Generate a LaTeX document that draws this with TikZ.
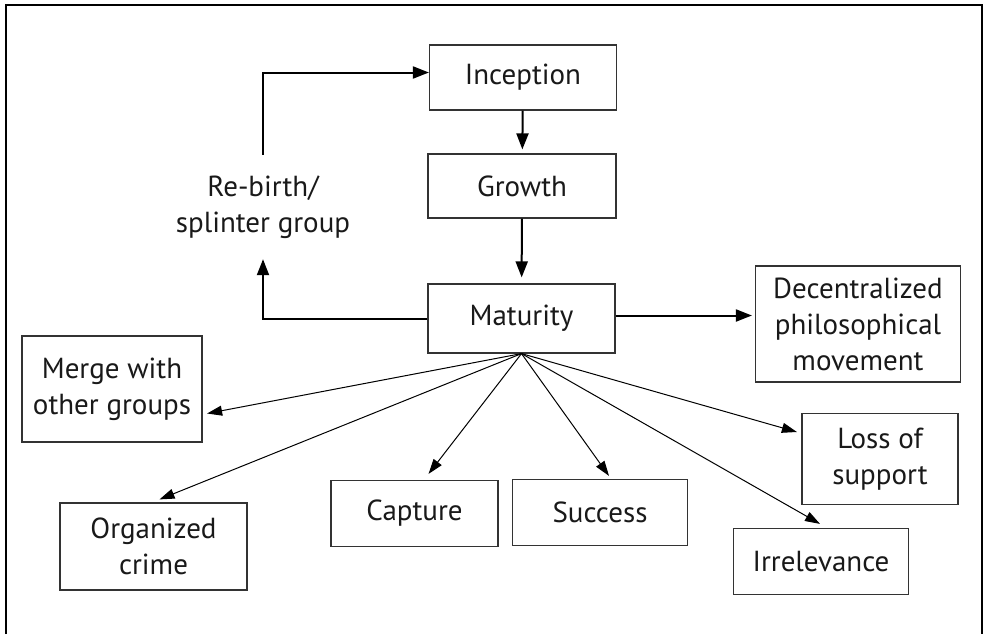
\documentclass[tikz,border=0pt]{standalone}
\usepackage{fontspec}
\setmainfont{PT Sans}
\usetikzlibrary{arrows.meta}

\begin{document}
\begin{tikzpicture}[x=1pt,y=-1pt,
    box/.style={draw=black!80,line width=1.2pt,align=center,inner sep=0pt,
      text=black!90,font=\fontsize{29}{36}\selectfont},
    link/.style={line width=2pt,-{Triangle[length=16pt,width=12pt]}},
    fan/.style={line width=1pt,-{Triangle[length=15pt,width=10pt]}}]
    \useasboundingbox (0,0) rectangle (984,634);
    % 外框
    \draw[line width=2.5pt] (6,634) -- (6,5) -- (982,5) -- (982,634);
    % 主线
    \node[box,minimum width=187pt,minimum height=65pt] (inc) at (523,77.5) {Inception};
    \node[box,minimum width=188pt,minimum height=64pt] (gro) at (522,186) {Growth};
    \node[box,minimum width=187pt,minimum height=69pt] (mat) at (521.5,318.5) {Maturity};
    \node[align=center,inner sep=0pt,minimum height=104pt,text=black!90,
      font=\fontsize{29}{36}\selectfont] (reb) at (263,207) {Re-birth/\\splinter group};
    % 结局
    \node[box,minimum width=205pt,minimum height=116pt] (dec) at (858,324) {Decentralized\\philosophical\\movement};
    \node[box,minimum width=180pt,minimum height=106pt] (mrg) at (112,389) {Merge with\\other groups};
    \node[box,minimum width=187pt,minimum height=87pt] (org) at (153.5,546.5) {Organized\\crime};
    \node[box,minimum width=167pt,minimum height=66pt] (cap) at (414.5,513.5) {Capture};
    \node[box,minimum width=175pt,minimum height=66pt] (suc) at (600,512.5) {Success};
    \node[box,minimum width=156pt,minimum height=91pt] (los) at (880,459) {Loss of\\support};
    \node[box,minimum width=175pt,minimum height=66pt] (irr) at (821,561.5) {Irrelevance};
    % 箭头
    \draw[link,shorten >=4pt] (inc) -- (gro);
    \draw[link,shorten >=6pt] (gro) -- (mat);
    \draw[link,shorten >=3pt] ([yshift=3pt]mat.east) -- ([yshift=3pt]mat.east -| dec.west);
    \draw[link] (mat.west) -| (reb.south);
    \draw[link] (reb.north) |- ([yshift=5pt]inc.west);
    \draw[fan] (mat.south) -- ([xshift=4.5pt,yshift=-24.5pt]mrg.east);
    \draw[fan] (mat.south) -- ([xshift=6pt,yshift=3pt]org.north);
    \draw[fan] (mat.south) -- ([xshift=14pt,yshift=6pt]cap.north);
    \draw[fan] (mat.south) -- ([xshift=9pt,yshift=3pt]suc.north);
    \draw[fan] (mat.south) -- ([xshift=-4.5pt,yshift=27pt]los.west);
    \draw[fan] (mat.south) -- ([xshift=-1pt,yshift=4pt]irr.north);
\end{tikzpicture}
\end{document}
